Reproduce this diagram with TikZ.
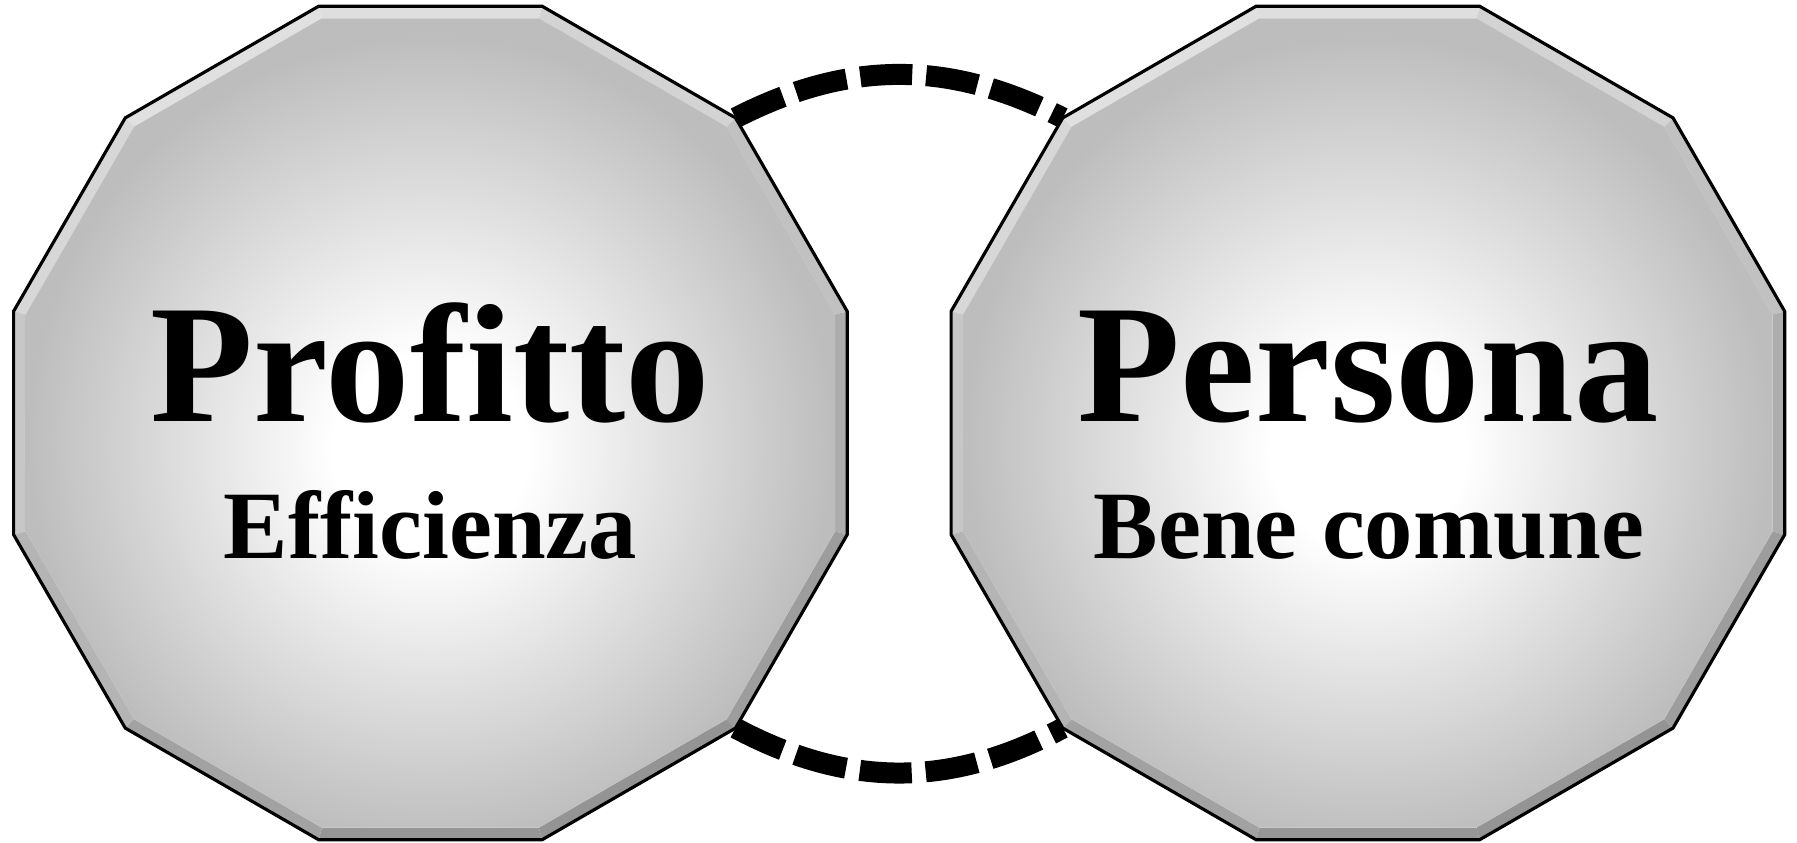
\documentclass[tikz,border=0pt]{standalone}
\usepackage{fontspec}
\setmainfont{Liberation Serif}
\pgfdeclareradialshading{ballshade}{\pgfpoint{0bp}{-2bp}}{color(0bp)=(white); color(6bp)=(white); color(25bp)=(black!26); color(50bp)=(black!26)}
\tikzset{
  outline/.style={draw=black, line width=0.9pt, line join=miter},
  conn/.style={line width=0.21cm, dash pattern=on 0.52cm off 0.14cm, black},
  bigtxt/.style={font=\bfseries\fontsize{48}{54}\selectfont, anchor=base, inner sep=0pt},
  smalltxt/.style={font=\bfseries\fontsize{27.5}{32}\selectfont, anchor=base, inner sep=0pt},
}
\newcommand\Ro{4.315}
\newcommand\Ri{4.19}
\newcommand\dodec[3]{%
  \coordinate (#1) at (#2,#3);
  \foreach \k in {0,...,11}{
    \pgfmathsetmacro\lev{73+15*cos(30*\k-110)}
    \pgfmathsetmacro\aa{30*\k-15}
    \pgfmathsetmacro\bb{30*\k+15}
    \fill[white!\lev!black] ([shift={(\aa:\Ro)}]#1) -- ([shift={(\bb:\Ro)}]#1) -- ([shift={(\bb:\Ri)}]#1) -- ([shift={(\aa:\Ri)}]#1) -- cycle;
  }
  \shade[shading=ballshade] ([shift={(15:\Ri)}]#1) \foreach \a in {45,75,...,345}{ -- ([shift={(\a:\Ri)}]#1)} -- cycle;
  \draw[outline] ([shift={(15:\Ro)}]#1) \foreach \a in {45,75,...,345}{ -- ([shift={(\a:\Ro)}]#1)} -- cycle;
  \coordinate (#1-45) at ([shift={(45:\Ro)}]#1);
  \coordinate (#1-135) at ([shift={(135:\Ro)}]#1);
  \coordinate (#1-225) at ([shift={(225:\Ro)}]#1);
  \coordinate (#1-315) at ([shift={(315:\Ro)}]#1);
}
\begin{document}
\begin{tikzpicture}
\useasboundingbox (0,0) rectangle (17.97,8.43);
\dodec{L}{4.304}{4.20}
\dodec{R}{13.679}{4.20}
\draw[conn] (L-45) to[bend left=27] (R-135);
\draw[conn] (L-315) to[bend right=28] (R-225);
\node[bigtxt] (profitto) at (4.304,4.21) {Profitto};
\node[smalltxt] (efficienza) at (4.304,2.84) {Efficienza};
\node[bigtxt] (persona) at (13.679,4.21) {Persona};
\node[smalltxt] (bene) at (13.69,2.84) {Bene comune};
\end{tikzpicture}
\end{document}
